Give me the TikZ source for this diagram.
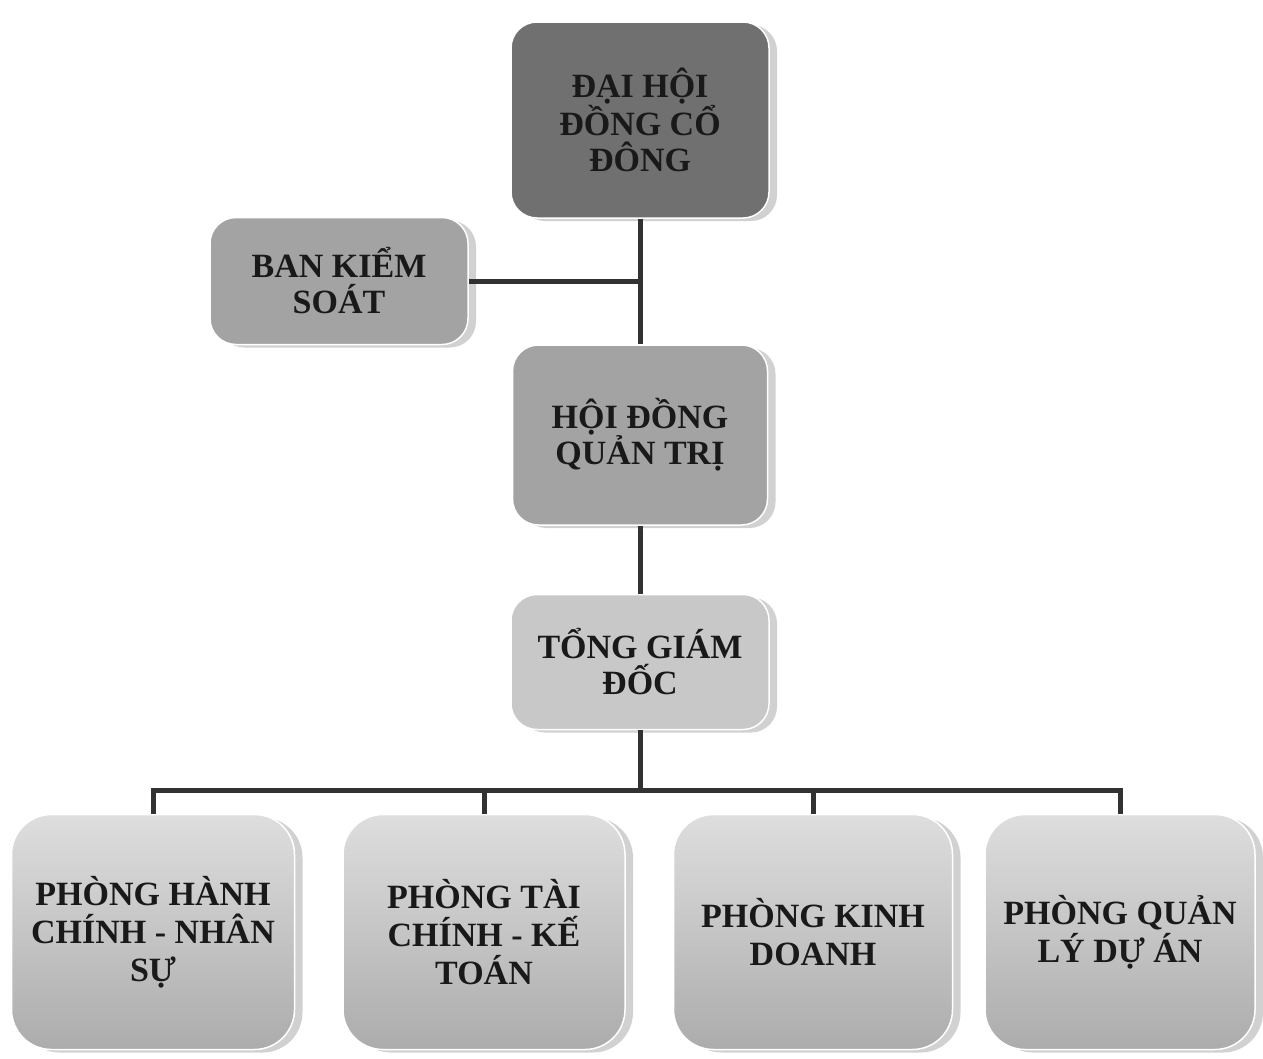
\documentclass[tikz,border=0pt]{standalone}
\usepackage{fontspec}
\setmainfont{Liberation Serif}
\usetikzlibrary{shadows}
\definecolor{cdark}{RGB}{112,112,112}
\definecolor{cmid}{RGB}{163,163,163}
\definecolor{clight}{RGB}{200,200,200}
\definecolor{btop}{RGB}{222,222,222}
\definecolor{bbot}{RGB}{172,172,172}
\definecolor{cline}{RGB}{50,50,50}
\definecolor{ctext}{RGB}{25,25,25}
\tikzset{
  box/.style={draw=white, line width=1.5pt, rounded corners=26pt, align=center,
    text=ctext, font=\fontsize{34}{36}\selectfont\bfseries, inner sep=0pt,
    drop shadow={shadow xshift=8pt, shadow yshift=-3pt, fill=black, opacity=0.18}},
  topbox/.style={box, fill=cdark, minimum width=258pt, minimum height=196pt},
  midbox/.style={box, fill=cmid},
  tgdbox/.style={box, fill=clight, minimum width=258pt, minimum height=135pt},
  deptbox/.style={box, rounded corners=40pt, top color=btop, bottom color=bbot,
    minimum height=235pt, font=\fontsize{34}{38}\selectfont\bfseries},
  conn/.style={draw=cline, line width=5pt}
}
\begin{document}
\begin{tikzpicture}[x=1pt,y=-1pt]
\useasboundingbox[fill=white] (0,0) rectangle (1263,1058);
\node[topbox] (dh) at (640,120) {ĐẠI HỘI\\ĐỒNG CỔ\\ĐÔNG};
\node[midbox, minimum width=258pt, minimum height=127pt] (bks) at (339,281) {BAN KIỂM\\SOÁT};
\node[midbox, minimum width=255pt, minimum height=180pt] (hd) at (640,435) {HỘI ĐỒNG\\QUẢN TRỊ};
\node[tgdbox] (tgd) at (640,662) {TỔNG GIÁM\\ĐỐC};
\node[deptbox, minimum width=283pt] (p1) at (153,932) {PHÒNG HÀNH\\CHÍNH - NHÂN\\SỰ};
\node[deptbox, minimum width=282pt] (p2) at (484,932) {PHÒNG TÀI\\CHÍNH - KẾ\\TOÁN};
\node[deptbox, minimum width=279pt] (p3) at (813,932) {PHÒNG KINH\\DOANH};
\node[deptbox, minimum width=270pt] (p4) at (1120,932) {PHÒNG QUẢN\\LÝ DỰ ÁN};
\coordinate (bus) at (640,790);
\draw[conn] (dh.south) -- (hd.north);
\draw[conn] (bks.east) -- (bks.east -| dh.south);
\draw[conn] (hd.south) -- (tgd.north);
\draw[conn] (tgd.south) -- (bus);
\draw[conn, line join=miter] (p1.north) -- (p1.north |- bus) -- (p4.north |- bus) -- (p4.north);
\draw[conn] (p2.north) -- (p2.north |- bus);
\draw[conn] (p3.north) -- (p3.north |- bus);
\end{tikzpicture}
\end{document}
